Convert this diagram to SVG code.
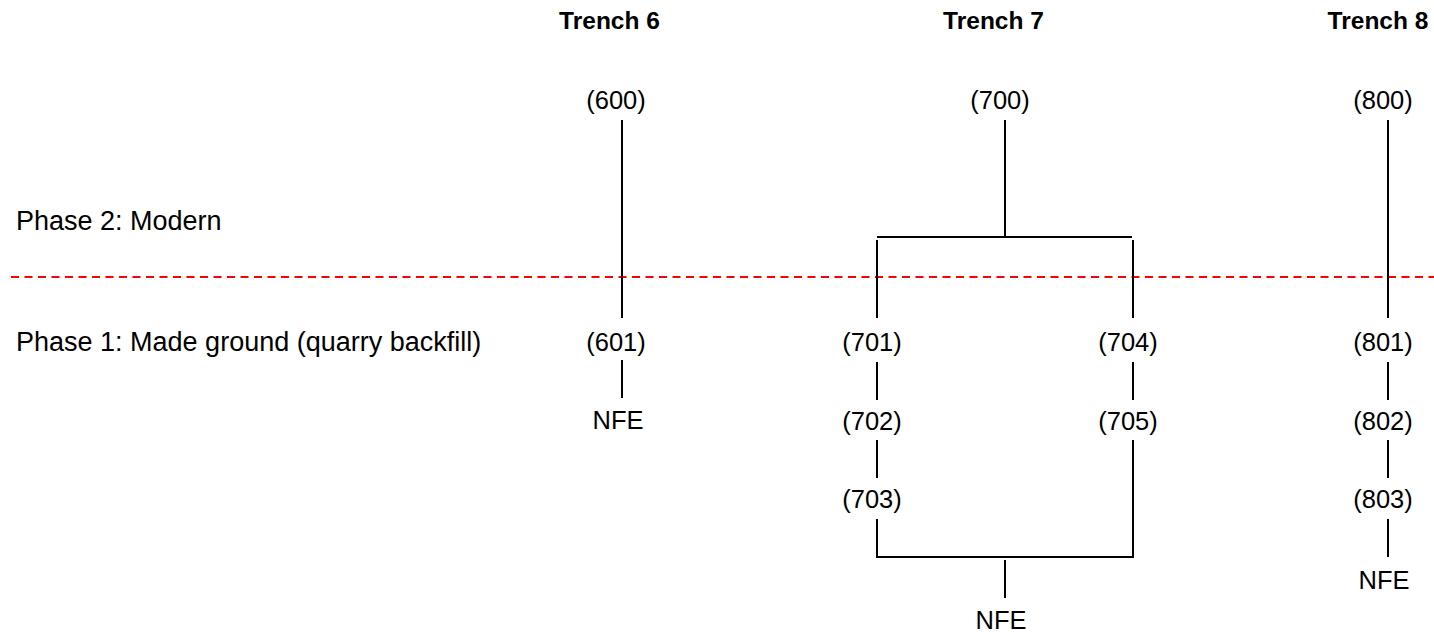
<svg xmlns="http://www.w3.org/2000/svg" width="1434" height="636" viewBox="0 0 1434 636">
<style>
.t{font-family:"Liberation Sans",Arial,sans-serif;font-size:25.5px;fill:#000;text-anchor:middle}
.h{font-family:"Liberation Sans",Arial,sans-serif;font-size:24.5px;font-weight:bold;fill:#000;text-anchor:middle}
.p{font-family:"Liberation Sans",Arial,sans-serif;font-size:27px;fill:#000}
.c{stroke:#000;stroke-width:2;fill:none}
.d{stroke:#FF0000;stroke-width:2;stroke-dasharray:8 5.5;fill:none}
</style>
<rect width="1434" height="636" fill="#fff"/>
<g id="headers">
<text class="h" x="609.5" y="29">Trench 6</text>
<text class="h" x="993.5" y="29">Trench 7</text>
<text class="h" x="1378" y="29">Trench 8</text>
</g>
<g id="phases">
<text class="p" x="16" y="230">Phase 2: Modern</text>
<text class="p" x="16" y="351">Phase 1: Made ground (quarry backfill)</text>
<line id="phase-boundary" class="d" x1="11" y1="277" x2="1434" y2="277"/>
</g>
<g id="connectors">
<path class="c" d="M622 120V318M622 360V398"/>
<path class="c" d="M1005 120V237M877 237H1132M877 240V318M1133 240V318"/>
<path class="c" d="M877 362V400M877 440V478M877 519V557H1133V440M1133 362V400"/>
<path class="c" d="M1005 560V598"/>
<path class="c" d="M1388 120V318M1388 362V400M1388 440V478M1388 519V557"/>
</g>
<g id="n600"><text class="t" x="616" y="109">(600)</text></g>
<g id="n601"><text class="t" x="616" y="351">(601)</text></g>
<g id="nfe6"><text class="t" x="618" y="429">NFE</text></g>
<g id="n700"><text class="t" x="1000" y="109">(700)</text></g>
<g id="n701"><text class="t" x="872" y="351">(701)</text></g>
<g id="n702"><text class="t" x="872" y="430">(702)</text></g>
<g id="n703"><text class="t" x="872" y="508">(703)</text></g>
<g id="n704"><text class="t" x="1128" y="351">(704)</text></g>
<g id="n705"><text class="t" x="1128" y="430">(705)</text></g>
<g id="nfe7"><text class="t" x="1001" y="629">NFE</text></g>
<g id="n800"><text class="t" x="1383" y="109">(800)</text></g>
<g id="n801"><text class="t" x="1383" y="351">(801)</text></g>
<g id="n802"><text class="t" x="1383" y="430">(802)</text></g>
<g id="n803"><text class="t" x="1383" y="508">(803)</text></g>
<g id="nfe8"><text class="t" x="1384" y="589">NFE</text></g>
</svg>
